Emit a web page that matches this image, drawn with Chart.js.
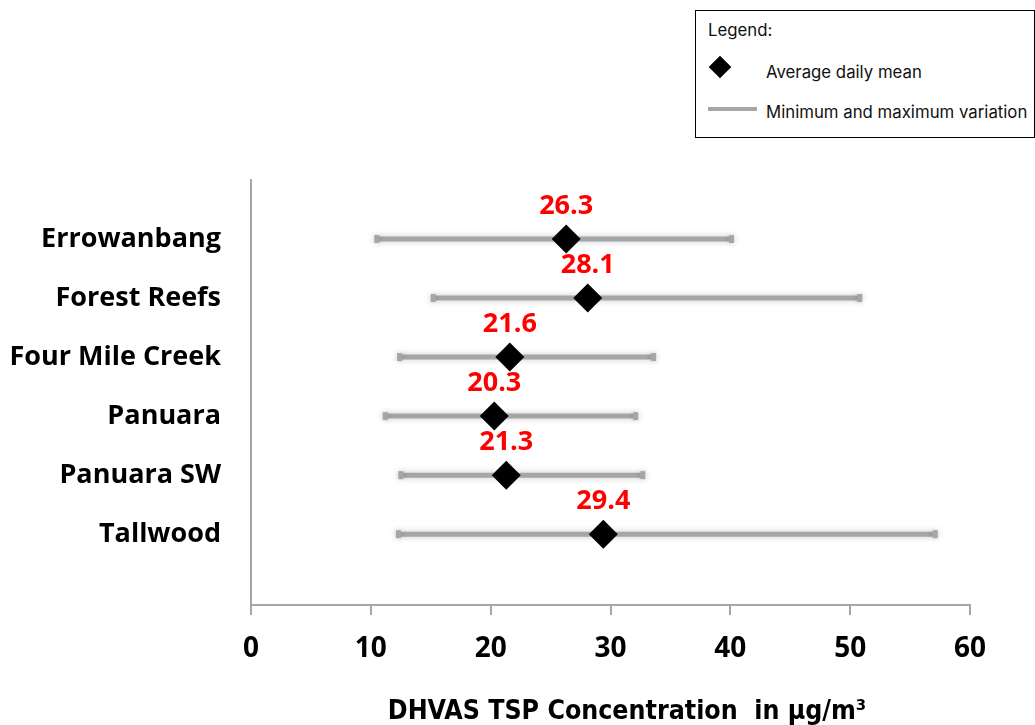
<!DOCTYPE html>
<html>
<head>
<meta charset="utf-8">
<script src="https://cdn.jsdelivr.net/npm/chart.js@4.4.1/dist/chart.umd.min.js"></script>
<style>
  html, body { margin: 0; padding: 0; background: #fff; }
  #wrap { position: relative; width: 1035px; height: 725px; overflow: hidden; }
  #legend { position: absolute; left: 695px; top: 10px; width: 338px; height: 126px; border: 1px solid #000; background: #fff; font-family: Inter, "Noto Sans", sans-serif; color: #111; z-index: 2; }
  #legend .t { position: absolute; font-size: 16.8px; white-space: nowrap; }
  #legend .dia { position: absolute; left: 16px; top: 48px; width: 16px; height: 16px; background: #000; transform: rotate(45deg); }
  #legend .ln { position: absolute; left: 12px; top: 96px; width: 49px; height: 4px; background: #a6a6a6; }
</style>
</head>
<body>
<div id="wrap">
  <div id="legend">
    <div class="t" style="left:12px; top:9px;">Legend:</div>
    <div class="dia"></div>
    <div class="t" style="left:70px; top:51px;">Average daily mean</div>
    <div class="ln"></div>
    <div class="t" style="left:70px; top:91px;">Minimum and maximum variation</div>
  </div>
  <canvas id="c" width="1035" height="725"></canvas>
</div>
<script>
const categories = ['Errowanbang', 'Forest Reefs', 'Four Mile Creek', 'Panuara', 'Panuara SW', 'Tallwood'];
const meanValues = [26.3, 28.1, 21.6, 20.3, 21.3, 29.4];
const minValues = [10.5, 15.2, 12.4, 11.2, 12.5, 12.3];
const maxValues = [40.1, 50.8, 33.6, 32.1, 32.7, 57.1];
const xTickValues = [0, 10, 20, 30, 40, 50, 60];
const xTitle = '\u00A0\u00A0\u00A0\u00A0DHVAS TSP Concentration  in µg/m³';

const whiskerDatasets = categories.map((c, i) => ({
  type: 'line',
  label: 'range-' + c,
  data: [{ x: minValues[i], y: i + 1 }, { x: maxValues[i], y: i + 1 }],
  borderColor: '#a6a6a6',
  borderWidth: 5,
  pointStyle: 'line',
  rotation: 90,
  pointRadius: 4,
  pointBorderWidth: 5,
  pointBorderColor: '#a6a6a6',
  pointBackgroundColor: '#a6a6a6',
  pointHoverRadius: 4,
  order: 2,
  isWhisker: true
}));

const meanDataset = {
  type: 'scatter',
  label: 'Average daily mean',
  data: meanValues.map((v, i) => ({ x: v, y: i + 1 })),
  pointStyle: 'rectRot',
  pointRadius: 14.5,
  pointHoverRadius: 14.5,
  backgroundColor: '#000',
  borderColor: '#000',
  borderWidth: 0,
  order: 0
};

const shadowPlugin = {
  id: 'shadow',
  beforeDatasetDraw(chart, args) {
    const ds = chart.data.datasets[args.index];
    if (ds.isWhisker) {
      chart.ctx.save();
      chart.ctx.shadowColor = 'rgba(0,0,0,0.22)';
      chart.ctx.shadowBlur = 6;
    }
  },
  afterDatasetDraw(chart, args) {
    const ds = chart.data.datasets[args.index];
    if (ds.isWhisker) chart.ctx.restore();
  }
};

const labelPlugin = {
  id: 'meanLabels',
  afterDatasetsDraw(chart) {
    const ctx = chart.ctx;
    const xs = chart.scales.x, ys = chart.scales.y;
    ctx.save();
    ctx.fillStyle = '#ff0000';
    ctx.font = 'bold 27px "Open Sans"';
    ctx.textAlign = 'center';
    ctx.textBaseline = 'middle';
    meanValues.forEach((v, i) => {
      ctx.fillText(v.toFixed(1), xs.getPixelForValue(v), ys.getPixelForValue(i + 1) - 33);
    });
    ctx.restore();
  }
};

new Chart(document.getElementById('c'), {
  type: 'scatter',
  data: { datasets: [meanDataset, ...whiskerDatasets] },
  plugins: [shadowPlugin, labelPlugin],
  options: {
    responsive: false,
    animation: false,
    layout: { padding: { top: 180, right: 65, left: 0, bottom: 0 } },
    plugins: { legend: { display: false }, tooltip: { enabled: false } },
    scales: {
      x: {
        type: 'linear',
        min: 0, max: 60,
        afterBuildTicks(scale) { scale.ticks = xTickValues.map(v => ({ value: v })); },
        afterFit(scale) { scale.height = 120; },
        grid: { drawOnChartArea: false, drawTicks: true, tickLength: 10, color: '#a6a6a6', lineWidth: 2 },
        border: { display: true, color: '#a6a6a6', width: 2 },
        ticks: { color: '#000', font: { family: '"Open Sans"', size: 28, weight: 'bold' }, padding: 17, maxRotation: 0 },
        title: { display: true, text: xTitle, color: '#000', font: { family: '"DejaVu Sans Condensed", sans-serif', size: 26.5, weight: 'bold', lineHeight: 1 }, padding: { top: 0, bottom: 0 } }
      },
      y: {
        type: 'linear',
        reverse: true,
        min: 0, max: 7.2,
        afterBuildTicks(scale) { scale.ticks = categories.map((c, i) => ({ value: i + 1 })); },
        afterFit(scale) { scale.width = 251; },
        grid: { display: false, drawTicks: false },
        border: { display: true, color: '#a6a6a6', width: 2 },
        ticks: {
          color: '#000',
          font: { family: '"Open Sans"', size: 27, weight: 'bold' },
          padding: 30,
          callback(value) { return categories[value - 1] || ''; }
        }
      }
    }
  }
});
</script>
</body>
</html>
